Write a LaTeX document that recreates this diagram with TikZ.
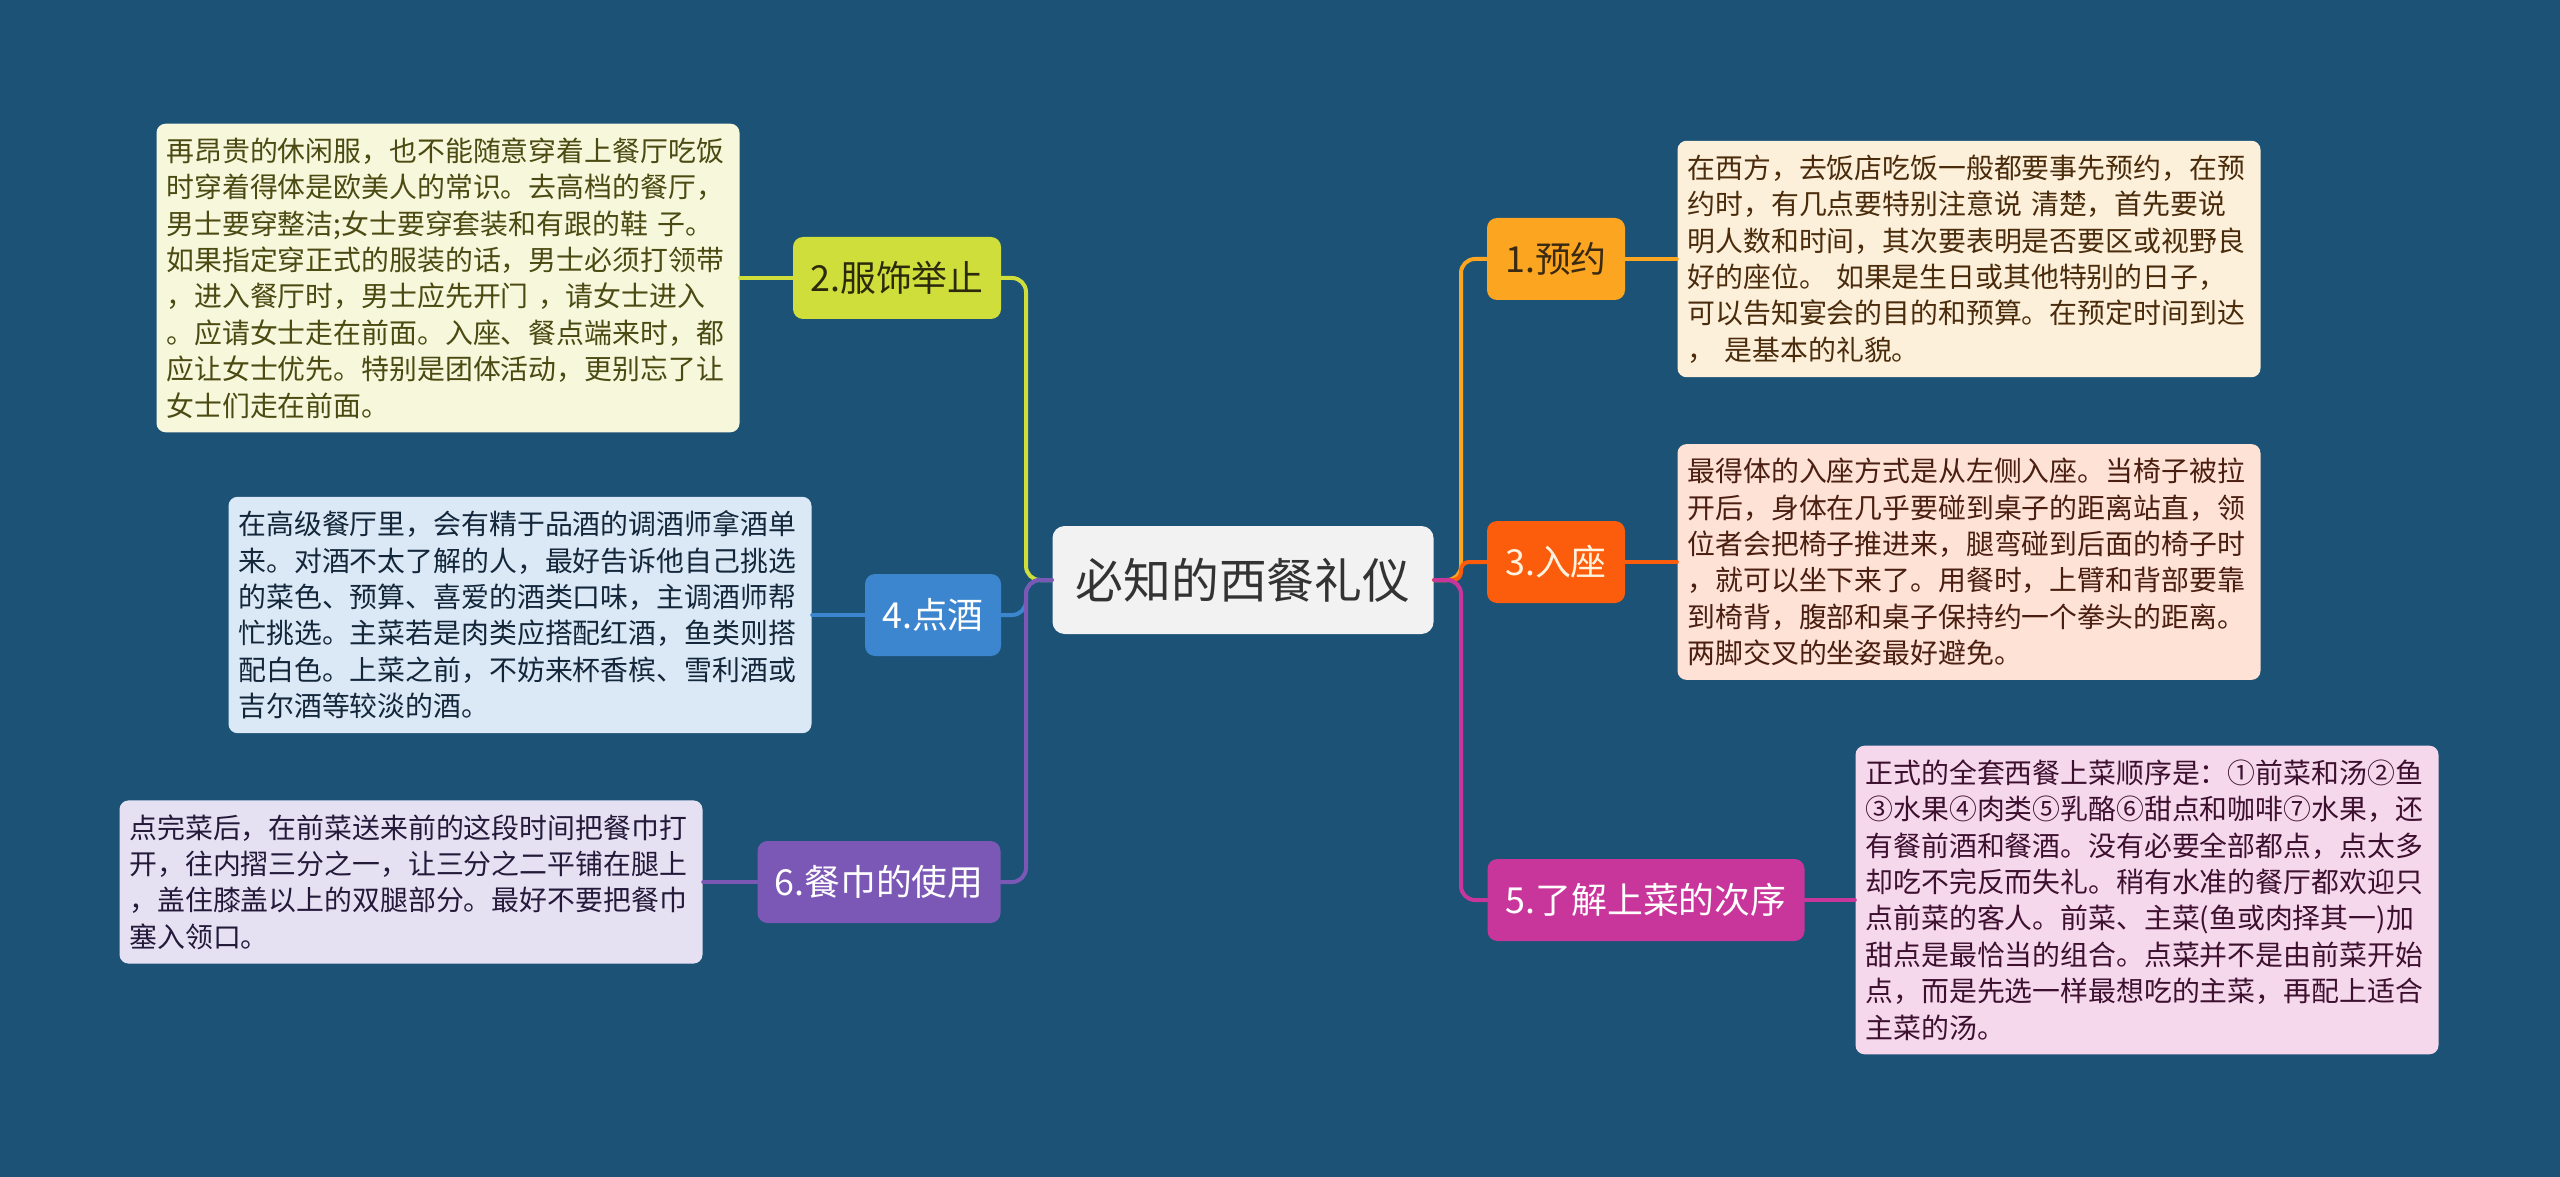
\documentclass[tikz,border=0pt]{standalone}
\usepackage{fontspec}
\setmainfont{Noto Sans CJK SC}
\usetikzlibrary{positioning}

\definecolor{bg}{HTML}{1B5276}
\definecolor{rootbg}{HTML}{F2F2F2}
\definecolor{roottx}{HTML}{333333}
\definecolor{c1}{HTML}{FBA520}
\definecolor{c2}{HTML}{D0DE3C}
\definecolor{c3}{HTML}{FC5D0C}
\definecolor{c4}{HTML}{3B86CF}
\definecolor{c5}{HTML}{C9369B}
\definecolor{c6}{HTML}{7B58B5}
\definecolor{c1tx}{HTML}{3A2A12}
\definecolor{c2tx}{HTML}{2B2B0C}
\definecolor{c3tx}{HTML}{FFF3E0}
\definecolor{n1}{HTML}{FDF0DA}
\definecolor{n2}{HTML}{F7F7DC}
\definecolor{n3}{HTML}{FDE2D5}
\definecolor{n4}{HTML}{DBE9F6}
\definecolor{n5}{HTML}{F6D8EC}
\definecolor{n6}{HTML}{E5E1F3}
\definecolor{n1tx}{HTML}{4A2C0C}
\definecolor{n2tx}{HTML}{4A4A12}
\definecolor{n3tx}{HTML}{4A1E10}
\definecolor{n4tx}{HTML}{13263A}
\definecolor{n5tx}{HTML}{3D1030}
\definecolor{n6tx}{HTML}{231A3A}

\newcommand{\quan}[1]{\makebox[1em]{#1}}   % 全角圈码

\begin{document}
\begin{tikzpicture}[x=0.1mm, y=-0.1mm, line cap=round, line join=round,
  topic/.style={fill=rootbg, text=roottx, rounded corners=1.2mm, inner sep=0pt,
    minimum width=38.1mm, minimum height=10.8mm, font=\fontsize{13.6pt}{16pt}\selectfont},
  branch/.style={rounded corners=1mm, inner sep=0pt, minimum height=8.2mm,
    font=\fontsize{10.2pt}{12pt}\selectfont},
  note/.style={rounded corners=0.9mm, inner xsep=1mm, inner ysep=1.4mm,
    text width=56.3mm, align=left, font=\fontsize{7.93pt}{10.35pt}\selectfont},
  link/.style={line width=0.4mm, rounded corners=1.4mm}]

  % --- 背景 ---
  \fill[bg] (0,0) rectangle (2560,1177);
  \useasboundingbox (0,0) rectangle (2560,1177);

  % --- 坐标 ---
  \coordinate (R) at (1461,580);   % 右侧主干
  \coordinate (L) at (1026,580);   % 左侧主干

  % --- 中心主题 ---
  \node[topic] (root) at (1243,580) {必知的西餐礼仪};

  % --- 分支 ---
  \node[branch, fill=c1, text=c1tx, minimum width=13.8mm] (yuyue) at (1556,259) {1.预约};
  \node[branch, fill=c3, text=c3tx, minimum width=13.8mm] (ruzuo) at (1556,562) {3.入座};
  \node[branch, fill=c5, text=white, minimum width=31.7mm] (shangcai) at (1646,900) {5.了解上菜的次序};
  \node[branch, fill=c2, text=c2tx, minimum width=20.8mm] (fushi) at (897,278) {2.服饰举止};
  \node[branch, fill=c4, text=white, minimum width=13.6mm] (dianjiu) at (933,615) {4.点酒};
  \node[branch, fill=c6, text=white, minimum width=24.3mm] (canjin) at (879,882) {6.餐巾的使用};

  % --- 说明 ---
  \node[note, fill=n1, text=n1tx] (t1) at (1969,259) {在西方，去饭店吃饭一般都要事先预约，在预\\
约时，有几点要特别注意说 清楚，首先要说\\
明人数和时间，其次要表明是否要区或视野良\\
好的座位。 如果是生日或其他特别的日子，\\
可以告知宴会的目的和预算。在预定时间到达\\
， 是基本的礼貌。};
  \node[note, fill=n3, text=n3tx] (t3) at (1969,562) {最得体的入座方式是从左侧入座。当椅子被拉\\
开后，身体在几乎要碰到桌子的距离站直，领\\
位者会把椅子推进来，腿弯碰到后面的椅子时\\
，就可以坐下来了。用餐时，上臂和背部要靠\\
到椅背，腹部和桌子保持约一个拳头的距离。\\
两脚交叉的坐姿最好避免。};
  \node[note, fill=n5, text=n5tx] (t5) at (2147,900) {正式的全套西餐上菜顺序是：\quan{①}前菜和汤\quan{②}鱼\\
\quan{③}水果\quan{④}肉类\quan{⑤}乳酪\quan{⑥}甜点和咖啡\quan{⑦}水果，还\\
有餐前酒和餐酒。没有必要全部都点，点太多\\
却吃不完反而失礼。稍有水准的餐厅都欢迎只\\
点前菜的客人。前菜、主菜(鱼或肉择其一)加\\
甜点是最恰当的组合。点菜并不是由前菜开始\\
点，而是先选一样最想吃的主菜，再配上适合\\
主菜的汤。};
  \node[note, fill=n2, text=n2tx] (t2) at (448,278) {再昂贵的休闲服，也不能随意穿着上餐厅吃饭\\
时穿着得体是欧美人的常识。去高档的餐厅，\\
男士要穿整洁;女士要穿套装和有跟的鞋 子。\\
如果指定穿正式的服装的话，男士必须打领带\\
，进入餐厅时，男士应先开门 ，请女士进入\\
。应请女士走在前面。入座、餐点端来时，都\\
应让女士优先。特别是团体活动，更别忘了让\\
女士们走在前面。};
  \node[note, fill=n4, text=n4tx] (t4) at (520,615) {在高级餐厅里，会有精于品酒的调酒师拿酒单\\
来。对酒不太了解的人，最好告诉他自己挑选\\
的菜色、预算、喜爱的酒类口味，主调酒师帮\\
忙挑选。主菜若是肉类应搭配红酒，鱼类则搭\\
配白色。上菜之前，不妨来杯香槟、雪利酒或\\
吉尔酒等较淡的酒。};
  \node[note, fill=n6, text=n6tx] (t6) at (411,882) {点完菜后，在前菜送来前的这段时间把餐巾打\\
开，往内摺三分之一，让三分之二平铺在腿上\\
，盖住膝盖以上的双腿部分。最好不要把餐巾\\
塞入领口。};

  % --- 连线：右侧 ---
  \draw[link, c1] (root.east) -- (R) |- (yuyue.west);
  \draw[link, c3, rounded corners=0.8mm] (root.east) -- (R) |- (ruzuo.west);
  \draw[link, c5] (root.east) -- (R) |- (shangcai.west);
  \draw[link, c1] (yuyue.east) -- (t1.west);
  \draw[link, c3] (ruzuo.east) -- (t3.west);
  \draw[link, c5] (shangcai.east) -- (t5.west);

  % --- 连线：左侧 ---
  \draw[link, c2] (root.west) -- (L) |- (fushi.east);
  \draw[link, c4] (root.west) -- (L) |- (dianjiu.east);
  \draw[link, c6] (root.west) -- (L) |- (canjin.east);
  \draw[link, c2] (fushi.west) -- (t2.east);
  \draw[link, c4] (dianjiu.west) -- (t4.east);
  \draw[link, c6] (canjin.west) -- (t6.east);
\end{tikzpicture}
\end{document}
